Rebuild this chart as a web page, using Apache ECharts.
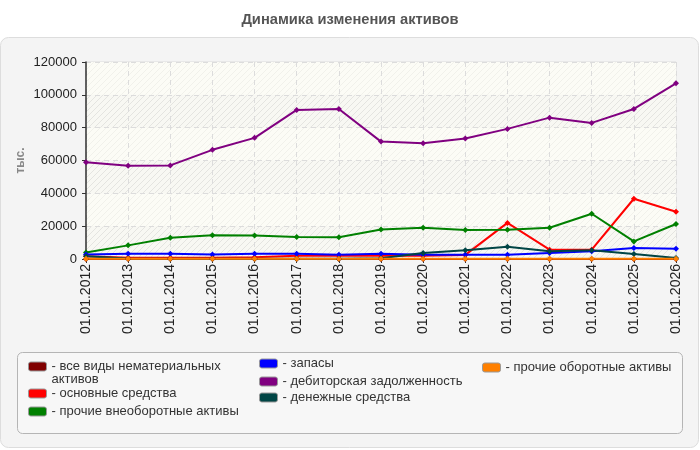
<!DOCTYPE html>
<html>
<head>
<meta charset="utf-8">
<script src="https://cdn.jsdelivr.net/npm/echarts@6/dist/echarts.min.js"></script>
<style>html,body{margin:0;padding:0;background:#fff}#c{width:700px;height:450px}</style>
</head>
<body>
<div id="c"></div>
<script>
var categories = ['01.01.2012','01.01.2013','01.01.2014','01.01.2015','01.01.2016','01.01.2017','01.01.2018','01.01.2019','01.01.2020','01.01.2021','01.01.2022','01.01.2023','01.01.2024','01.01.2025','01.01.2026'];
var intangibles = [0,0,0,0,0,0,0,0,0,0,0,0,0,0,0];
var fixedAssets = [1600,700,700,700,1000,2000,2000,2000,2000,2500,22000,5700,5700,36700,28800];
var otherNonCurrent = [4000,8300,13000,14400,14300,13400,13200,18000,19000,17600,17800,19000,27550,10700,21300];
var inventories = [2800,3200,3200,2800,3200,3200,2600,3200,2600,2600,2600,3650,4700,6700,6300];
var receivables = [59000,56750,57000,66500,73800,90800,91400,71500,70550,73350,79250,86100,82900,91400,107000];
var cash = [1600,300,200,200,200,200,200,500,3650,5300,7500,4700,5300,3000,600];
var otherCurrent = [100,100,100,100,100,100,100,100,100,100,100,100,100,100,100];
var yTicks = [0,20000,40000,60000,80000,100000,120000];

var names = ['все виды нематериальных активов','основные средства','прочие внеоборотные активы','запасы','дебиторская задолженность','денежные средства','прочие оборотные активы'];
var colors = ['#800000','#ff0000','#008000','#0000ff','#800080','#004545','#ff8000'];
var datasets = [intangibles, fixedAssets, otherNonCurrent, inventories, receivables, cash, otherCurrent];

function hatch(bg, line) {
  var c = document.createElement('canvas');
  c.width = 6; c.height = 6;
  var g = c.getContext('2d');
  g.fillStyle = bg; g.fillRect(0,0,6,6);
  g.strokeStyle = line; g.lineWidth = 1;
  g.beginPath();
  g.moveTo(0,6); g.lineTo(6,0);
  g.moveTo(-1,1); g.lineTo(1,-1);
  g.moveTo(5,7); g.lineTo(7,5);
  g.stroke();
  return {image: c, repeat: 'repeat'};
}

var FONT = 'Liberation Sans, Arial, sans-serif';
var chart = echarts.init(document.getElementById('c'), null, {renderer:'canvas'});

var series = names.map(function(n, i){
  return {
    name: n, type: 'line', data: datasets[i],
    symbol: 'diamond', symbolSize: 6, showSymbol: true,
    lineStyle: {color: colors[i], width: 2},
    itemStyle: {color: colors[i]},
    animation: false
  };
});

var legendPos = [
  {left: 28, top: 347, i: 0},
  {left: 28, top: 387, i: 1},
  {left: 28, top: 405, i: 2},
  {left: 259, top: 357, i: 3},
  {left: 259, top: 375, i: 4},
  {left: 259, top: 391, i: 5},
  {left: 482, top: 361, i: 6}
];
var legends = legendPos.map(function(p){
  return {
    left: p.left, top: p.top, padding: 0, orient: 'vertical',
    icon: 'roundRect', itemWidth: 18, itemHeight: 9,
    itemStyle: {borderColor: '#999', borderWidth: 1},
    selectedMode: false,
    data: [{name: names[p.i]}],
    formatter: function(name){
      if (name === names[0]) return '\n- все виды нематериальных\nактивов';
      return '- ' + name;
    },
    textStyle: {fontFamily: FONT, fontSize: 13, color: '#333', lineHeight: 13}
  };
});

chart.setOption({
  backgroundColor: '#fff',
  animation: false,
  title: {
    text: 'Динамика изменения активов', left: 'center', top: 12, padding: 0,
    textStyle: {fontFamily: FONT, fontSize: 14.7, fontWeight: 'bold', color: '#555'}
  },
  graphic: [
    {type: 'rect', z: -100, silent: true, shape: {x: 0.5, y: 37.5, width: 698, height: 410, r: 8}, style: {fill: '#f4f4f4', stroke: '#dddddd', lineWidth: 1}},
    {type: 'rect', z: -99, silent: true, shape: {x: 17.5, y: 352.5, width: 665, height: 81, r: 5}, style: {fill: '#f7f7f7', stroke: '#b5b5b5', lineWidth: 1}}
  ],
  legend: legends,
  grid: {left: 86, right: 24, top: 62, bottom: 191, show: true, borderColor: '#dddddd', borderWidth: 1, backgroundColor: '#fcfcf6'},
  xAxis: {
    type: 'category', data: categories, boundaryGap: false,
    axisLine: {lineStyle: {color: '#333', width: 1.5}},
    axisTick: {show: true, length: 4, lineStyle: {color: '#333'}},
    axisLabel: {rotate: 90, margin: 5, fontFamily: FONT, fontSize: 14, color: '#222', interval: 0},
    splitLine: {show: true, lineStyle: {color: '#dcdcdc', type: [5,4]}}
  },
  yAxis: {
    type: 'value', min: yTicks[0], max: yTicks[yTicks.length-1], interval: 20000,
    name: 'тыс.', nameLocation: 'middle', nameRotate: 90, nameGap: 59, nameMoveOverlap: false,
    nameTextStyle: {fontFamily: FONT, fontSize: 12, fontWeight: 'bold', color: '#888'},
    axisLine: {show: true, lineStyle: {color: '#333', width: 1.5}},
    axisTick: {show: true, length: 4, lineStyle: {color: '#333'}},
    axisLabel: {margin: 9, fontFamily: FONT, fontSize: 13, color: '#222', formatter: function(v){ return String(v); }},
    splitLine: {show: true, lineStyle: {color: '#dcdcdc', type: [5,4]}},
    splitArea: {show: true, areaStyle: {color: [hatch('#f8f8f3', '#e4e4e0'), hatch('#fcfcf6', '#f1f1eb')]}}
  },
  series: series
});
</script>
</body>
</html>
